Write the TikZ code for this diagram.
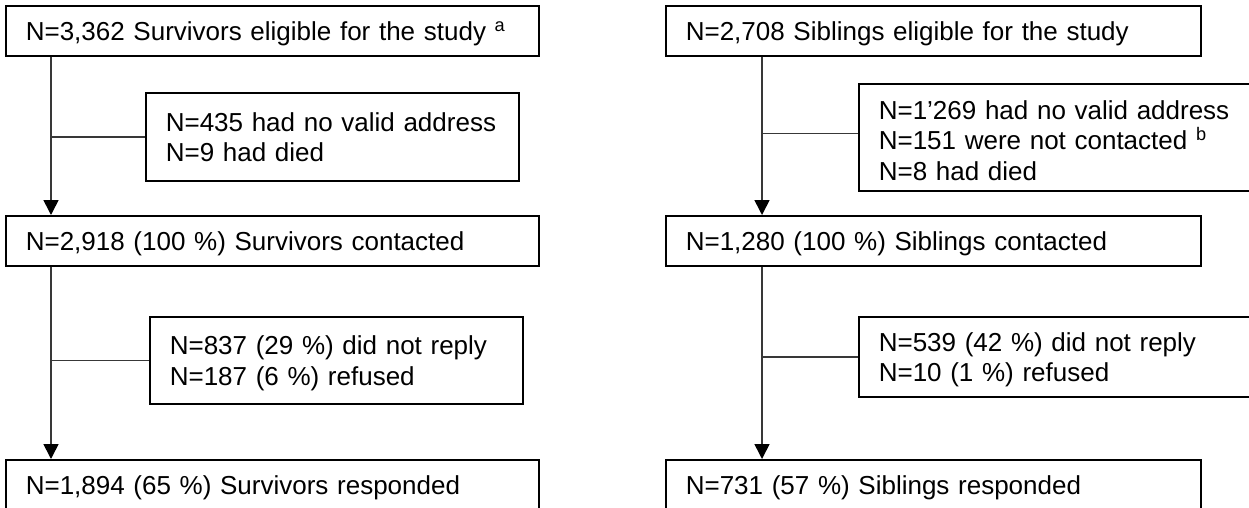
\documentclass[tikz,border=0pt]{standalone}
\usepackage{fontspec}
\setmainfont{Liberation Sans}
\usetikzlibrary{arrows.meta}
\begin{document}
\begin{tikzpicture}[x=1pt,y=-1pt,
  box/.style={draw=black, line width=1.6pt, inner ysep=0pt, inner xsep=20pt,
    anchor=north west, align=left, text height=19pt,
    font=\fontsize{26}{30.4}\selectfont},
  one/.style={box, text depth=0pt, minimum height=50pt},
  two/.style={box, text depth=30.4pt},
  three/.style={box, text depth=60.8pt},
  conn/.style={draw=black!78, line width=1.6pt},
  arr/.style={conn, -{Triangle[width=15pt,length=15pt,fill=black,color=black]}}]
\useasboundingbox (0,0) rectangle (1249,507);
% left column
\node[one, text width=493pt] (L1) at (5,5)
  {N=3,362 Survivors eligible for the study \textsuperscript{a}};
\node[two, text width=333pt, minimum height=88pt] (LE1) at (145,92)
  {\mbox{N=435 had no valid address}\\N=9 had died};
\node[one, text width=493pt] (L3) at (5,215)
  {N=2,918 (100~\%) Survivors contacted};
\node[two, text width=333pt, minimum height=87pt] (LE2) at (149,316)
  {\mbox{N=837 (29~\%) did not reply}\\N=187 (6~\%) refused};
\node[one, text width=493pt] (L5) at (5,459)
  {N=1,894 (65~\%) Survivors responded};
% right column
\node[one, text width=495pt] (R1) at (665,5)
  {N=2,708 Siblings eligible for the study};
\node[three, text width=402pt, text height=25pt, minimum height=107pt] (RE1) at (858,83)
  {\mbox{N=1'269 had no valid address}\\\mbox{N=151 were not contacted \textsuperscript{b}}\\N=8 had died};
\node[one, text width=495pt] (R3) at (665,215)
  {N=1,280 (100~\%) Siblings contacted};
\node[two, text width=402pt, minimum height=80pt] (RE2) at (858,316)
  {\mbox{N=539 (42~\%) did not reply}\\N=10 (1~\%) refused};
\node[one, text width=495pt] (R5) at (665,459)
  {N=731 (57~\%) Siblings responded};
% spine coordinates
\coordinate (lx) at (51,0);
\coordinate (rx) at (762,0);
% connectors
\draw[arr] (L1.south -| lx) -- (L3.north -| lx);
\draw[conn] (LE1.west) -- (LE1.west -| lx);
\draw[arr] (L3.south -| lx) -- (L5.north -| lx);
\draw[conn] (LE2.west) -- (LE2.west -| lx);
\draw[arr] (R1.south -| rx) -- (R3.north -| rx);
\draw[conn] ([yshift=4pt]RE1.west) -- ([yshift=4pt]RE1.west -| rx);
\draw[arr] (R3.south -| rx) -- (R5.north -| rx);
\draw[conn] (RE2.west) -- (RE2.west -| rx);
\end{tikzpicture}
\end{document}
